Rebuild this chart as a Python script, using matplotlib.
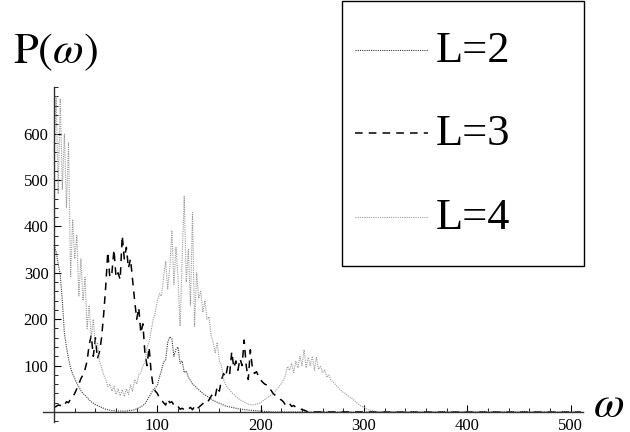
import matplotlib
matplotlib.use("Agg")
import matplotlib.pyplot as plt
from matplotlib.ticker import FixedLocator, MultipleLocator
from matplotlib.lines import Line2D
from matplotlib.patches import Rectangle

plt.rcParams['mathtext.fontset'] = 'stix'
plt.rcParams['font.family'] = ['Liberation Serif', 'DejaVu Serif']

# omega sampled every 2 from 0 to 320, then one point at the end of the axis
omega = list(range(0, 322, 2)) + [510]

# L=2 (dark dotted)
p_L2 = [
    360, 345, 320, 295, 240, 170, 140, 115, 95, 82,      # 0-18
    72, 62, 54, 46, 40, 36, 31, 26, 22, 19,              # 20-38
    16, 14, 12, 10, 8, 6, 5, 4, 3, 3,                    # 40-58
    2, 2, 2, 2, 2, 2, 3, 3, 4, 5,                        # 60-78
    7, 9, 11, 14, 18, 25, 33, 40, 48, 52,                # 80-98
    58, 75, 90, 108, 112, 150, 162, 158, 120, 135,       # 100-118
    140, 105, 110, 85, 88, 75, 68, 60, 57, 52,           # 120-138
    48, 44, 40, 37, 34, 31, 28, 25, 23, 21,              # 140-158
    19, 17, 15, 13, 12, 11, 10, 9, 8, 7,                 # 160-178
    6, 6, 5, 5, 4, 4, 3, 3, 3, 2,                        # 180-198
    2, 2, 1, 1, 1, 0, 0, 0, 0, 0,                        # 200-218
    0, 0, 0, 0, 0, 0, 0, 0, 0, 0,                        # 220-238
    0, 0, 0, 0, 0, 0, 0, 0, 0, 0,                        # 240-258
    0, 0, 0, 0, 0, 0, 0, 0, 0, 0,                        # 260-278
    0, 0, 0, 0, 0, 0, 0, 0, 0, 0,                        # 280-298
    0, 0, 0, 0, 0, 0, 0, 0, 0, 0,                        # 300-318
    0, 0,                                                # 320, 510
]

# L=3 (dashed)
p_L3 = [
    10, 12, 15, 14, 18, 15, 22, 20, 28, 32,              # 0-18
    40, 50, 60, 72, 80, 92, 110, 145, 165, 120,          # 20-38
    160, 115, 130, 160, 210, 270, 345, 290, 300, 350,    # 40-58
    290, 300, 285, 380, 330, 355, 310, 330, 285, 240,    # 60-78
    200, 225, 170, 190, 125, 100, 140, 85, 55, 45,       # 80-98
    40, 30, 26, 20, 15, 28, 20, 22, 15, 10,              # 100-118
    12, 6, 8, 5, 8, 6, 10, 5, 12, 6,                     # 120-138
    10, 14, 18, 22, 20, 26, 34, 40, 33, 55,              # 140-158
    45, 69, 83, 75, 98, 83, 130, 95, 110, 90,            # 160-178
    115, 100, 155, 100, 70, 134, 95, 83, 87, 76,         # 180-198
    69, 64, 60, 58, 50, 47, 40, 36, 33, 28,              # 200-218
    26, 22, 15, 20, 18, 12, 14, 10, 8, 8,                # 220-238
    5, 4, 2, 0, 0, 0, 0, 0, 0, 0,                        # 240-258
    0, 0, 0, 0, 0, 0, 0, 0, 0, 0,                        # 260-278
    0, 0, 0, 0, 0, 0, 0, 0, 0, 0,                        # 280-298
    0, 0, 0, 0, 0, 0, 0, 0, 0, 0,                        # 300-318
    0, 0,                                                # 320, 510
]

# L=4 (light grey dotted)
p_L4 = [
    560, 680, 470, 675, 480, 600, 440, 580, 290, 415,    # 0-18
    330, 380, 250, 330, 240, 290, 180, 230, 160, 200,    # 20-38
    140, 150, 110, 95, 80, 70, 55, 60, 45, 55,           # 40-58
    38, 50, 35, 48, 33, 50, 38, 58, 45, 70,              # 60-78
    60, 80, 85, 100, 105, 140, 150, 175, 200, 215,       # 80-98
    240, 255, 250, 290, 325, 265, 310, 390, 275, 355,    # 100-118
    290, 185, 330, 465, 280, 350, 230, 430, 185, 300,    # 120-138
    245, 260, 215, 240, 200, 205, 165, 150, 128, 150,    # 140-158
    110, 100, 70, 60, 52, 48, 42, 38, 33, 30,            # 160-178
    26, 24, 22, 19, 17, 16, 15, 16, 17, 18,              # 180-198
    20, 24, 27, 30, 33, 36, 40, 45, 50, 55,              # 200-218
    62, 69, 80, 98, 90, 105, 85, 110, 95, 120,           # 220-238
    100, 134, 95, 118, 100, 120, 90, 118, 92, 98,        # 240-258
    85, 90, 75, 80, 68, 65, 60, 55, 50, 46,              # 260-278
    42, 40, 36, 33, 30, 26, 22, 18, 14, 12,              # 280-298
    10, 7, 5, 4, 3, 2, 2, 1, 1, 0,                       # 300-318
    0, 0,                                                # 320, 510
]

labels = ["L=2", "L=3", "L=4"]
colors = ["#3a3a3a", "black", "#9a9a9a"]
styles = [(0, (1, 1)), (0, (5, 4)), (0, (1, 1))]
widths = [0.8, 1.1, 0.8]

W, H = 630, 432
fig = plt.figure(figsize=(W / 100, H / 100), dpi=100)
ax = fig.add_axes([43 / W, 1 - 422.2 / H, 540 / W, 335 / H])

for series, c, ls, lw in zip([p_L2, p_L3, p_L4], colors, styles, widths):
    ax.plot(omega, series, color=c, linestyle=ls, lw=lw)

ax.set_xlim(-10.7, 512)
ax.set_ylim(-22, 700)

ax.spines['left'].set_position(('data', 0))
ax.spines['bottom'].set_position(('data', 0))
ax.spines['top'].set_visible(False)
ax.spines['right'].set_visible(False)
for s in ['left', 'bottom']:
    ax.spines[s].set_linewidth(1.0)
    ax.spines[s].set_color('#333333')

ax.xaxis.set_major_locator(FixedLocator([100, 200, 300, 400, 500]))
ax.xaxis.set_minor_locator(MultipleLocator(20))
ax.yaxis.set_major_locator(FixedLocator([100, 200, 300, 400, 500, 600]))
ax.yaxis.set_minor_locator(MultipleLocator(20))
ax.tick_params(which='major', direction='in', length=5, width=0.8, labelsize=12, pad=4)
ax.tick_params(which='minor', direction='in', length=3, width=0.6)

# axis labels
fig.text(13 / W, 1 - 63 / H, r'$\mathrm{P}(\omega)$', fontsize=32, va='baseline')
fig.text(593 / W, 1 - 417 / H, r'$\omega$', fontsize=32, va='baseline')

# legend box drawn by hand
fig.add_artist(Rectangle((342 / W, 1 - 266 / H), 242 / W, 265 / H,
                         transform=fig.transFigure, fill=False, lw=1, ec='black'))
for lab, c, ls, lw, y in zip(labels, colors, styles, widths, [50, 133, 217]):
    fig.add_artist(Line2D([355 / W, 428 / W], [1 - y / H, 1 - y / H],
                          transform=fig.transFigure, color=c, linestyle=ls, lw=lw))
    fig.text(436 / W, 1 - (y + 12) / H, lab, fontsize=32, va='baseline')

fig.savefig("out.png", dpi=100)
